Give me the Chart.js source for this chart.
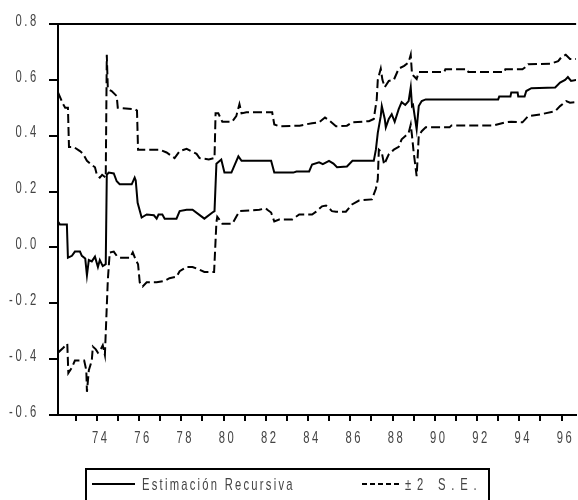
<!DOCTYPE html>
<html>
<head>
<meta charset="utf-8">
<script src="https://cdn.jsdelivr.net/npm/chart.js@4.4.1/dist/chart.umd.min.js"></script>
<style>
  html, body { margin: 0; padding: 0; background: #fff; }
  #wrap { width: 578px; height: 500px; }
</style>
</head>
<body>
<div id="wrap"><canvas id="chart" width="578" height="500"></canvas></div>
<script>
// recursive estimate of the coefficient (years as decimals)
const estYears = [
  1972.16, 1972.25, 1972.58, 1972.63, 1972.82, 1972.96, 1973.20, 1973.29, 1973.45, 1973.53,
  1973.62, 1973.76, 1973.91, 1974.05, 1974.14, 1974.28, 1974.42, 1974.47, 1974.56, 1974.80,
  1974.94, 1975.08, 1975.65, 1975.79, 1975.84, 1975.93, 1976.12, 1976.36, 1976.70, 1976.83,
  1976.92, 1977.10, 1977.21, 1977.77, 1977.92, 1978.25, 1978.53, 1979.09, 1979.47, 1979.57,
  1979.66, 1979.89, 1980.04, 1980.37, 1980.70, 1980.85, 1982.25, 1982.40, 1983.30, 1983.45,
  1984.05, 1984.19, 1984.52, 1984.70, 1984.99, 1985.20, 1985.37, 1985.84, 1986.10, 1987.11,
  1987.21, 1987.30, 1987.44, 1987.49, 1987.63, 1987.68, 1987.82, 1987.96, 1988.10, 1988.29,
  1988.43, 1988.60, 1988.76, 1988.86, 1988.92, 1988.97, 1989.14, 1989.24, 1989.38, 1989.57,
  1993.00, 1993.05, 1993.58, 1993.62, 1993.92, 1993.95, 1994.25, 1994.33, 1994.57, 1995.70,
  1995.93, 1996.17, 1996.30, 1996.45, 1996.69
]
const estValues = [
  0.093, 0.082, 0.082, -0.037, -0.03, -0.015, -0.015, -0.03, -0.04, -0.10,
  -0.045, -0.05, -0.033, -0.07, -0.045, -0.067, -0.06, 0.26, 0.268, 0.265,
  0.237, 0.226, 0.226, 0.25, 0.24, 0.16, 0.107, 0.118, 0.115, 0.103,
  0.118, 0.118, 0.103, 0.103, 0.13, 0.135, 0.135, 0.103, 0.125, 0.13,
  0.30, 0.315, 0.268, 0.268, 0.326, 0.31, 0.31, 0.268, 0.268, 0.272,
  0.272, 0.297, 0.305, 0.298, 0.31, 0.30, 0.287, 0.29, 0.31, 0.31,
  0.35, 0.41, 0.47, 0.506, 0.46, 0.43, 0.46, 0.477, 0.45, 0.495,
  0.52, 0.51, 0.524, 0.573, 0.506, 0.51, 0.423, 0.506, 0.524, 0.53,
  0.53, 0.54, 0.54, 0.555, 0.555, 0.54, 0.54, 0.56, 0.57, 0.573,
  0.59, 0.60, 0.61, 0.596, 0.60
]

// upper band (+2 S.E.)
const upperYears = [
  1972.16, 1972.40, 1972.50, 1972.63, 1972.68, 1972.90, 1973.20, 1973.35, 1973.53, 1973.76,
  1973.91, 1974.00, 1974.14, 1974.25, 1974.42, 1974.47, 1974.52, 1974.70, 1974.94, 1974.99,
  1975.79, 1975.90, 1975.95, 1976.97, 1977.30, 1977.68, 1977.92, 1978.25, 1978.72, 1978.86,
  1979.30, 1979.57, 1979.62, 1979.75, 1979.94, 1980.40, 1980.60, 1980.75, 1980.85, 1981.08,
  1982.30, 1982.40, 1982.63, 1983.60, 1984.19, 1984.52, 1984.80, 1985.00, 1985.32, 1985.84,
  1986.08, 1986.88, 1987.11, 1987.25, 1987.30, 1987.44, 1987.52, 1987.63, 1987.82, 1988.06,
  1988.29, 1988.55, 1988.76, 1988.86, 1988.92, 1989.05, 1989.14, 1989.24, 1990.45, 1990.50,
  1991.55, 1991.59, 1993.30, 1993.34, 1994.15, 1994.28, 1994.42, 1995.50, 1995.84, 1995.98,
  1996.20, 1996.40, 1996.69
]
const upperValues = [
  0.555, 0.513, 0.50, 0.50, 0.36, 0.36, 0.345, 0.335, 0.31, 0.295,
  0.287, 0.26, 0.25, 0.26, 0.25, 0.69, 0.567, 0.56, 0.542, 0.50,
  0.495, 0.49, 0.35, 0.35, 0.34, 0.32, 0.345, 0.353, 0.335, 0.32,
  0.315, 0.32, 0.48, 0.48, 0.45, 0.45, 0.47, 0.513, 0.48, 0.484,
  0.484, 0.44, 0.434, 0.436, 0.445, 0.448, 0.465, 0.455, 0.434, 0.436,
  0.448, 0.452, 0.46, 0.53, 0.60, 0.64, 0.60, 0.574, 0.596, 0.60,
  0.64, 0.65, 0.663, 0.69, 0.62, 0.61, 0.603, 0.628, 0.628, 0.638,
  0.638, 0.628, 0.628, 0.638, 0.638, 0.645, 0.656, 0.658, 0.667, 0.68,
  0.69, 0.675, 0.675
]

// lower band (-2 S.E.)
const lowerYears = [
  1972.16, 1972.40, 1972.60, 1972.65, 1972.82, 1972.96, 1973.40, 1973.50, 1973.53, 1973.62,
  1973.76, 1973.81, 1973.95, 1974.05, 1974.15, 1974.28, 1974.38, 1974.47, 1974.52, 1974.61,
  1974.80, 1974.94, 1975.08, 1975.56, 1975.70, 1975.84, 1975.95, 1976.03, 1976.17, 1976.36,
  1976.83, 1977.20, 1977.44, 1977.77, 1977.92, 1978.25, 1978.53, 1978.86, 1979.09, 1979.55,
  1979.66, 1979.70, 1979.94, 1980.42, 1980.60, 1980.75, 1981.69, 1982.00, 1982.07, 1982.25,
  1982.40, 1982.63, 1983.25, 1983.58, 1984.19, 1984.38, 1984.66, 1984.85, 1985.00, 1985.13,
  1985.32, 1985.79, 1986.08, 1986.41, 1987.02, 1987.11, 1987.21, 1987.30, 1987.35, 1987.49,
  1987.60, 1987.82, 1988.06, 1988.29, 1988.43, 1988.62, 1988.76, 1988.86, 1988.92, 1989.00,
  1989.14, 1989.24, 1989.38, 1989.57, 1990.70, 1990.79, 1992.80, 1993.34, 1993.62, 1994.15,
  1994.42, 1995.04, 1995.70, 1995.93, 1996.22, 1996.40, 1996.69
]
const lowerValues = [
  -0.377, -0.36, -0.345, -0.45, -0.43, -0.405, -0.405, -0.44, -0.517, -0.44,
  -0.405, -0.355, -0.365, -0.377, -0.37, -0.35, -0.385, -0.21, -0.115, -0.018,
  -0.015, -0.03, -0.037, -0.037, -0.018, -0.045, -0.06, -0.125, -0.14, -0.125,
  -0.125, -0.12, -0.11, -0.105, -0.085, -0.07, -0.07, -0.08, -0.088, -0.088,
  0.09, 0.11, 0.085, 0.085, 0.11, 0.13, 0.135, 0.14, 0.135, 0.125,
  0.093, 0.10, 0.10, 0.118, 0.118, 0.128, 0.147, 0.15, 0.14, 0.13,
  0.128, 0.128, 0.154, 0.168, 0.172, 0.19, 0.21, 0.244, 0.35, 0.34,
  0.297, 0.333, 0.35, 0.36, 0.387, 0.40, 0.41, 0.44, 0.40, 0.34,
  0.255, 0.40, 0.416, 0.43, 0.43, 0.437, 0.437, 0.448, 0.45, 0.448,
  0.47, 0.477, 0.488, 0.506, 0.524, 0.518, 0.52
]

const labeledYears = [1974, 1976, 1978, 1980, 1982, 1984, 1986, 1988, 1990, 1992, 1994, 1996]
const seriesLabels = ['Estimación Recursiva', '±2 S.E.']

const FONT = "'Liberation Sans', Arial, sans-serif"
const TEXT_COLOR = '#444'
const SQUEEZE = 0.66 // the original type is a tall condensed face

const toPoints = (xs, ys) => xs.map((x, i) => ({ x, y: ys[i] }))

// draw every text squeezed horizontally around its anchor
function condenseText(ctx) {
  if (ctx._condensed) return
  const fill = ctx.fillText.bind(ctx)
  ctx.fillText = function (text, x, y, maxWidth) {
    this.save()
    this.translate(x, y)
    this.scale(SQUEEZE, 1)
    fill(text, 0, 0)
    this.restore()
  }
  ctx._condensed = true
}

// top frame line, letter spacing and boxed legend
const framePlugin = {
  id: 'framePlugin',
  beforeDraw(chart) {
    condenseText(chart.ctx)
    chart.ctx.letterSpacing = '4px'
  },
  afterDraw(chart) {
    const { ctx, chartArea } = chart
    ctx.save()
    ctx.strokeStyle = '#000'
    ctx.lineWidth = 2
    ctx.setLineDash([])
    ctx.beginPath()
    ctx.moveTo(chartArea.left - 1, chartArea.top)
    ctx.lineTo(chartArea.right, chartArea.top)
    ctx.stroke()

    // legend
    ctx.strokeRect(86, 469, 403, 40)
    const ly = 484
    ctx.beginPath()
    ctx.moveTo(92, ly)
    ctx.lineTo(135, ly)
    ctx.stroke()
    ctx.setLineDash([5, 3])
    ctx.beginPath()
    ctx.moveTo(362, ly)
    ctx.lineTo(399, ly)
    ctx.stroke()
    ctx.setLineDash([])
    ctx.fillStyle = TEXT_COLOR
    ctx.font = '17px ' + FONT
    ctx.textBaseline = 'middle'
    ctx.textAlign = 'left'
    ctx.letterSpacing = '3.4px'
    ctx.fillText(seriesLabels[0], 142, ly + 1)
    ctx.letterSpacing = '8.8px'
    ctx.fillText(seriesLabels[1], 405, ly + 1)
    ctx.restore()
  }
}

new Chart(document.getElementById('chart'), {
  type: 'line',
  data: {
    datasets: [
      {
        label: seriesLabels[0],
        data: toPoints(estYears, estValues),
        borderColor: '#000',
        borderWidth: 2
      },
      {
        label: seriesLabels[1],
        data: toPoints(upperYears, upperValues),
        borderColor: '#000',
        borderWidth: 2,
        borderDash: [9, 4]
      },
      {
        label: seriesLabels[1],
        data: toPoints(lowerYears, lowerValues),
        borderColor: '#000',
        borderWidth: 2,
        borderDash: [9, 4]
      }
    ]
  },
  options: {
    responsive: false,
    animation: false,
    devicePixelRatio: 1,
    layout: { padding: { top: 24, left: 0, right: 0, bottom: 0 } },
    elements: {
      point: { radius: 0 },
      line: { tension: 0, fill: false }
    },
    plugins: {
      legend: { display: false },
      tooltip: { enabled: false }
    },
    scales: {
      x: {
        type: 'linear',
        min: 1972.16,
        max: 1996.69,
        afterFit: (scale) => { scale.height = 85 },
        border: { display: true, color: '#000', width: 2 },
        grid: { drawOnChartArea: false, drawTicks: true, tickLength: 6, color: '#000', lineWidth: 2 },
        ticks: {
          stepSize: 1,
          includeBounds: false,
          autoSkip: false,
          maxRotation: 0,
          padding: 7,
          labelOffset: 4,
          color: TEXT_COLOR,
          font: { family: FONT, size: 17 },
          callback: (v) => labeledYears.includes(Math.round(v)) ? String(Math.round(v)).slice(2) : ''
        }
      },
      y: {
        min: -0.6,
        max: 0.8,
        afterFit: (scale) => { scale.width = 58 },
        border: { display: true, color: '#000', width: 2 },
        grid: { drawOnChartArea: false, drawTicks: true, tickLength: 9, color: '#000', lineWidth: 2 },
        ticks: {
          stepSize: 0.2,
          padding: 10,
          labelOffset: -3,
          color: TEXT_COLOR,
          font: { family: FONT, size: 17 },
          callback: (v) => Math.abs(v) < 1e-9 ? '0.0' : v.toFixed(1)
        }
      }
    }
  },
  plugins: [framePlugin]
})
</script>
</body>
</html>
